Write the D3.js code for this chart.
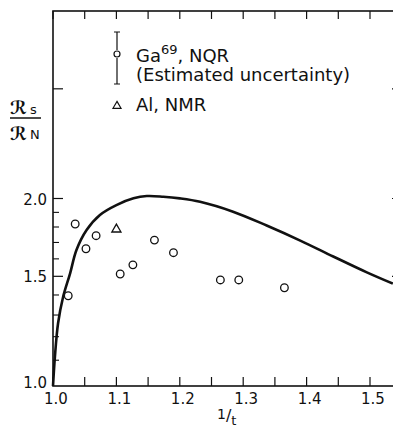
<!DOCTYPE html>
<html>
<head>
<meta charset="utf-8">
<script src="https://cdn.jsdelivr.net/npm/d3@7"></script>
<style>
body { margin: 0; background: #fff; }
text { font-family: "DejaVu Sans", sans-serif; fill: #111; }
</style>
</head>
<body>
<svg id="chart" width="393" height="430"></svg>
<script>
// theory curve
var curveX = [1.0, 1.003, 1.008, 1.016, 1.027, 1.037, 1.053, 1.074, 1.100, 1.127, 1.148, 1.174, 1.200, 1.232, 1.284, 1.337, 1.390, 1.442, 1.495, 1.536];
var curveY = [1.0, 1.114, 1.261, 1.391, 1.517, 1.653, 1.780, 1.882, 1.952, 2.001, 2.018, 2.013, 2.001, 1.976, 1.905, 1.810, 1.712, 1.614, 1.522, 1.460];

// Ga69 NQR points
var gaX = [1.024, 1.035, 1.052, 1.068, 1.106, 1.126, 1.160, 1.190, 1.264, 1.293, 1.365];
var gaY = [1.396, 1.820, 1.661, 1.743, 1.513, 1.565, 1.715, 1.637, 1.480, 1.480, 1.438];

// Al NMR point
var alX = [1.100];
var alY = [1.791];

var xTicks = [1.0, 1.1, 1.2, 1.3, 1.4, 1.5];
var xMinor = [1.05, 1.15, 1.25, 1.35, 1.45];
var yTicks = [1.0, 1.5, 2.0];
var yMajor = [1.5, 2.0, 3.0];
var yMinor = [1.1, 1.2, 1.3, 1.4, 1.6, 1.7, 1.8, 1.9];

var svg = d3.select('#chart');

var xScale = d3.scaleLinear().domain([1.0, 1.5]).range([53, 370]);
var yScale = d3.scaleLog().domain([1, 4]).range([386, 11]);

var pLeft = 53, pRight = 402, pTop = 11, pBottom = 386;

// frame
svg.append("rect")
    .attr("x", pLeft).attr("y", pTop)
    .attr("width", pRight - pLeft).attr("height", pBottom - pTop)
    .attr("fill", "none")
    .attr("stroke", "#111")
    .attr("stroke-width", 1.6);

// x ticks, bottom and top
var allX = xTicks.concat(xMinor);
svg.selectAll(".xtb").data(allX).enter().append("line")
    .attr("x1", d => xScale(d)).attr("x2", d => xScale(d))
    .attr("y1", pBottom).attr("y2", pBottom - 9)
    .attr("stroke", "#111").attr("stroke-width", 1.2);
svg.selectAll(".xtt").data(allX).enter().append("line")
    .attr("x1", d => xScale(d)).attr("x2", d => xScale(d))
    .attr("y1", pTop).attr("y2", pTop + 8)
    .attr("stroke", "#111").attr("stroke-width", 1.2);

svg.selectAll(".xl").data(xTicks).enter().append("text")
    .attr("x", d => xScale(d) + 3)
    .attr("y", 404)
    .attr("text-anchor", "middle")
    .attr("font-size", 15)
    .text(d => d.toFixed(1));

// y ticks, left and right
svg.selectAll(".ytm").data(yMajor).enter().append("line")
    .attr("x1", pLeft).attr("x2", pLeft + 10)
    .attr("y1", d => yScale(d)).attr("y2", d => yScale(d))
    .attr("stroke", "#111").attr("stroke-width", 1.2);
svg.selectAll(".ytn").data(yMinor).enter().append("line")
    .attr("x1", pLeft).attr("x2", pLeft + 6)
    .attr("y1", d => yScale(d)).attr("y2", d => yScale(d))
    .attr("stroke", "#111").attr("stroke-width", 1.1);
svg.selectAll(".ytr").data(yMajor).enter().append("line")
    .attr("x1", pRight).attr("x2", pRight - 10)
    .attr("y1", d => yScale(d)).attr("y2", d => yScale(d))
    .attr("stroke", "#111").attr("stroke-width", 1.2);

svg.selectAll(".yl").data(yTicks).enter().append("text")
    .attr("x", 47)
    .attr("y", d => yScale(d) + (d === 1.0 ? 2 : 6))
    .attr("text-anchor", "end")
    .attr("font-size", 15)
    .text(d => d.toFixed(1));

// axis titles
var yl = svg.append("g");
yl.append("text").attr("x", 10).attr("y", 114).attr("font-size", 18).attr("font-weight", "bold").text("ℛ");
yl.append("text").attr("x", 30).attr("y", 114).attr("font-size", 13).text("s");
yl.append("line").attr("x1", 10).attr("x2", 41).attr("y1", 118).attr("y2", 118)
    .attr("stroke", "#111").attr("stroke-width", 1.5);
yl.append("text").attr("x", 10).attr("y", 140).attr("font-size", 18).attr("font-weight", "bold").text("ℛ");
yl.append("text").attr("x", 30).attr("y", 139).attr("font-size", 13).text("N");

var xl = svg.append("text").attr("x", 217).attr("y", 424).attr("font-size", 16);
xl.append("tspan").attr("font-size", 14).attr("dy", -5).text("1");
xl.append("tspan").attr("font-size", 16).attr("dy", 2).text("/");
xl.append("tspan").attr("font-size", 13).attr("dy", 4).text("t");

// curve
var line = d3.line()
    .x(function (d) { return xScale(d[0]); })
    .y(function (d) { return yScale(d[1]); })
    .curve(d3.curveCatmullRom.alpha(0.5));

svg.append("path")
    .datum(d3.zip(curveX, curveY))
    .attr("fill", "none")
    .attr("stroke", "#111")
    .attr("stroke-width", 2.6)
    .attr("d", line);

// points
svg.selectAll(".ga").data(d3.zip(gaX, gaY)).enter().append("circle")
    .attr("cx", d => xScale(d[0]))
    .attr("cy", d => yScale(d[1]))
    .attr("r", 3.8)
    .attr("fill", "#fff")
    .attr("stroke", "#111")
    .attr("stroke-width", 1.3);

var tri = d3.symbol().type(d3.symbolTriangle).size(36);
svg.selectAll(".al").data(d3.zip(alX, alY)).enter().append("path")
    .attr("transform", d => "translate(" + xScale(d[0]) + "," + (yScale(d[1]) + 1) + ")")
    .attr("d", tri)
    .attr("fill", "#fff")
    .attr("stroke", "#111")
    .attr("stroke-width", 1.3);

// legend
var lg = svg.append("g");
lg.append("path")
    .attr("d", "M114,32H120M117,32V50M117,58V84M114,84H120")
    .attr("fill", "none").attr("stroke", "#111").attr("stroke-width", 1.2);
lg.append("circle").attr("cx", 117).attr("cy", 54).attr("r", 3)
    .attr("fill", "#fff").attr("stroke", "#111").attr("stroke-width", 1.2);
var t1 = lg.append("text").attr("x", 136).attr("y", 62).attr("font-size", 18);
t1.append("tspan").text("Ga");
t1.append("tspan").attr("dy", -8).attr("font-size", 13).text("69");
t1.append("tspan").attr("dy", 8).text(", NQR");
lg.append("text").attr("x", 136).attr("y", 81).attr("font-size", 18).text("(Estimated uncertainty)");
lg.append("path")
    .attr("transform", "translate(117,106)")
    .attr("d", d3.symbol().type(d3.symbolTriangle).size(28))
    .attr("fill", "#fff").attr("stroke", "#111").attr("stroke-width", 1.2);
lg.append("text").attr("x", 136).attr("y", 111).attr("font-size", 18).text("Al, NMR");
</script>
</body>
</html>
